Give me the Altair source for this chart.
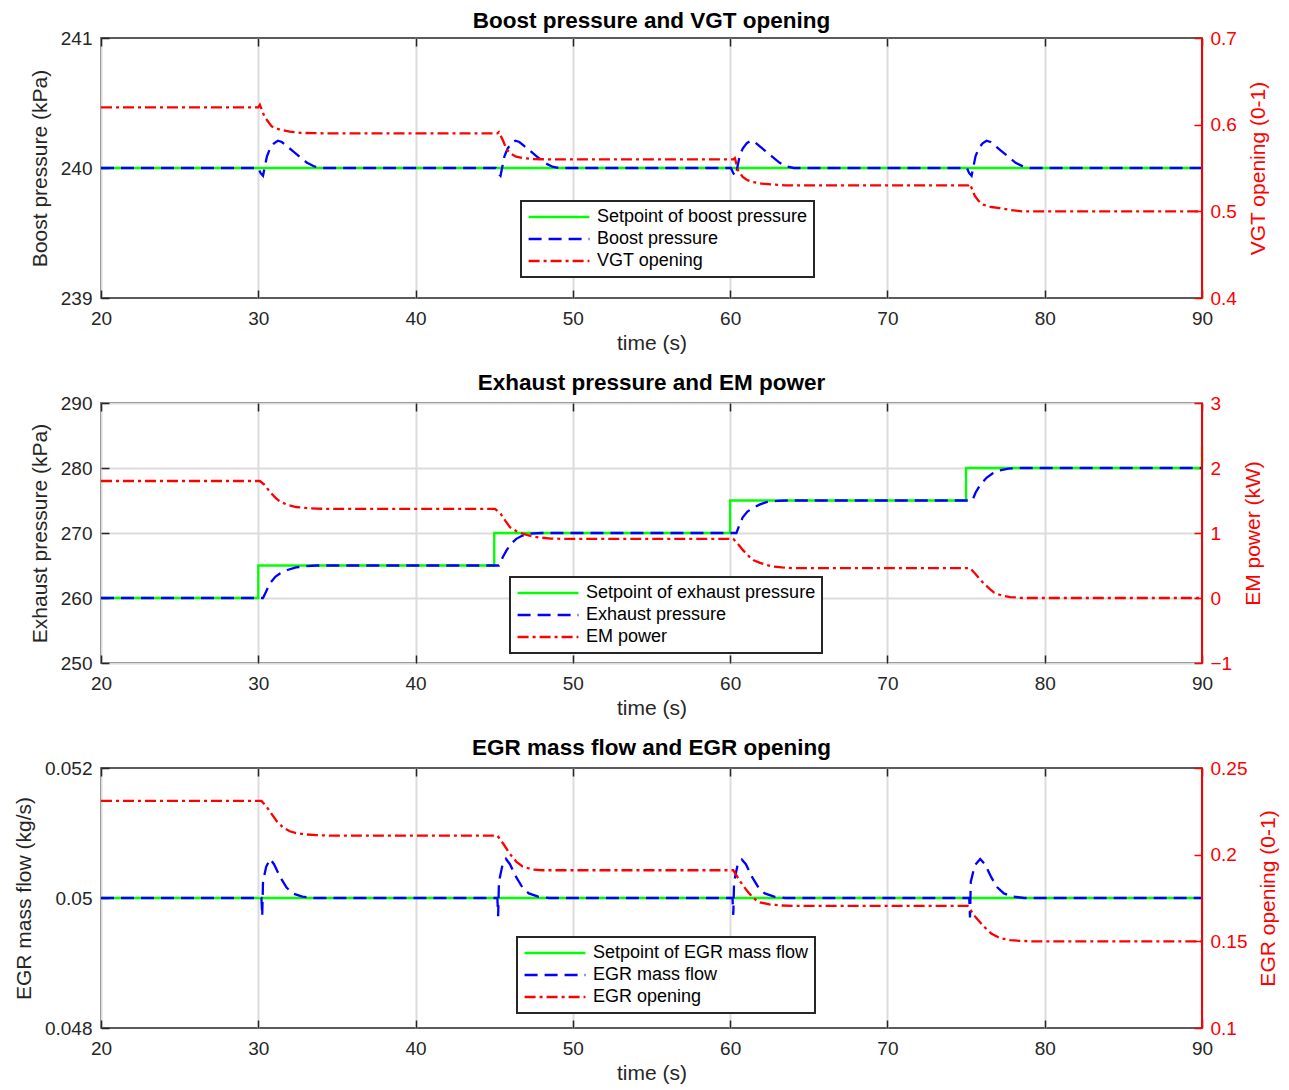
import altair as alt
import pandas as pd

FONT = "Liberation Sans"
GREEN, BLUE, RED, DARK = "#00FF00", "#0000FF", "#FF0000", "#262626"
W, H = 1101, 260

x_ticks = [20, 30, 40, 50, 60, 70, 80, 90]

# ---------------- Panel 1: boost pressure / VGT ----------------
p1_names = ["Setpoint of boost pressure", "Boost pressure", "VGT opening"]
boost_sp_t = [20, 90]
boost_sp_v = [240, 240]
boost_t = [20, 30.0, 30.15, 30.3, 30.4, 30.55, 30.75, 31.0, 31.25, 31.5, 31.8, 32.2, 32.6, 33.1, 33.6, 34.0,
           45.1, 45.25, 45.4, 45.5, 45.65, 45.85, 46.1, 46.35, 46.6, 46.9, 47.3, 47.7, 48.2, 48.7, 49.1,
           60.05, 60.2, 60.35, 60.45, 60.6, 60.8, 61.05, 61.3, 61.55, 61.85, 62.25, 62.65, 63.15, 63.65, 64.05,
           75.05, 75.2, 75.35, 75.45, 75.6, 75.8, 76.05, 76.3, 76.55, 76.85, 77.25, 77.65, 78.15, 78.65, 79.05, 90]
boost_v = [240, 240.0, 239.96, 239.94, 240.0, 240.09, 240.15, 240.19, 240.21, 240.2, 240.17, 240.13, 240.09, 240.04, 240.01, 240.0,
           240.0, 239.96, 239.94, 240.0, 240.09, 240.15, 240.19, 240.21, 240.2, 240.17, 240.13, 240.09, 240.04, 240.01, 240.0,
           240.0, 239.96, 239.94, 240.0, 240.09, 240.15, 240.19, 240.21, 240.2, 240.17, 240.13, 240.09, 240.04, 240.01, 240.0,
           240.0, 239.96, 239.94, 240.0, 240.09, 240.15, 240.19, 240.21, 240.2, 240.17, 240.13, 240.09, 240.04, 240.01, 240.0, 240.0]
vgt_t = [20, 30.0, 30.1, 30.4, 30.85, 31.4, 32.0, 32.7, 33.5, 34.3,
         45.2, 45.3, 45.55, 45.8, 46.1, 46.4, 46.9, 47.5, 48.3,
         60.2, 60.3, 60.5, 60.8, 61.1, 61.45, 62.0, 62.7, 63.5,
         75.15, 75.25, 75.55, 75.8, 76.1, 76.6, 77.15, 77.8, 78.6, 90]
vgt_v = [0.62, 0.62, 0.623, 0.609, 0.598, 0.594, 0.592, 0.5905, 0.5902, 0.59,
         0.59, 0.5915, 0.582, 0.571, 0.566, 0.563, 0.5612, 0.5604, 0.56,
         0.56, 0.5615, 0.5477, 0.5396, 0.536, 0.5338, 0.532, 0.531, 0.53,
         0.53, 0.5315, 0.518, 0.512, 0.5077, 0.505, 0.5038, 0.5015, 0.5, 0.5]

# ---------------- Panel 2: exhaust pressure / EM power ----------------
p2_names = ["Setpoint of exhaust pressure", "Exhaust pressure", "EM power"]
exh_sp_t = [20, 30, 30, 45, 45, 60, 60, 75, 75, 90, 90]
exh_sp_v = [260, 260, 265, 265, 270, 270, 275, 275, 280, 280, 283.5]
exh_t = [20, 30.3, 30.5, 30.75, 31.1, 31.4, 31.9, 32.4, 33.0, 33.7,
         45.3, 45.55, 45.8, 46.1, 46.4, 46.8, 47.3, 48.0,
         60.4, 60.6, 60.8, 61.1, 61.5, 61.9, 62.3, 63.0, 63.6,
         75.4, 75.6, 75.9, 76.3, 76.7, 77.1, 77.7, 78.4, 90]
exh_v = [260, 260, 261.0, 262.3, 263.3, 263.8, 264.35, 264.7, 264.9, 265.0,
         265, 266.3, 267.4, 268.4, 269.1, 269.6, 269.9, 270,
         270, 271.3, 272.4, 273.3, 273.9, 274.4, 274.75, 274.95, 275,
         275, 276.2, 277.4, 278.5, 279.2, 279.6, 279.9, 280, 280]
em_t = [20, 30.1, 30.4, 30.75, 31.1, 31.4, 31.9, 32.4, 33.0, 33.7, 34.5,
        45.05, 45.4, 45.7, 46.0, 46.4, 46.8, 47.3, 47.9, 48.6, 49.3,
        60.2, 60.5, 60.8, 61.2, 61.5, 61.9, 62.3, 62.7, 63.3, 64.0,
        75.25, 75.6, 76.1, 76.5, 76.8, 77.3, 77.8, 78.6, 90]
em_v = [1.8, 1.8, 1.74, 1.63, 1.54, 1.48, 1.43, 1.40, 1.385, 1.375, 1.37,
        1.37, 1.3, 1.19, 1.09, 1.03, 0.99, 0.955, 0.93, 0.915, 0.91,
        0.91, 0.83, 0.74, 0.64, 0.58, 0.54, 0.51, 0.485, 0.47, 0.46,
        0.46, 0.37, 0.23, 0.14, 0.08, 0.035, 0.015, 0.0, 0.0]

# ---------------- Panel 3: EGR mass flow / EGR opening ----------------
p3_names = ["Setpoint of EGR mass flow", "EGR mass flow", "EGR opening"]
egr_sp_t = [20, 90]
egr_sp_v = [0.05, 0.05]
egr_t = [20, 30.2, 30.25, 30.3, 30.5, 30.75, 31.0, 31.4, 31.8, 32.2, 32.8, 33.5,
         45.2, 45.25, 45.3, 45.5, 45.75, 46.0, 46.4, 46.8, 47.2, 47.8, 48.5,
         60.15, 60.2, 60.25, 60.45, 60.75, 61.0, 61.4, 61.8, 62.2, 62.8, 63.5,
         75.2, 75.25, 75.3, 75.55, 75.9, 76.2, 76.6, 77.0, 77.4, 78.0, 78.7, 90]
egr_v = [0.05, 0.05, 0.04972, 0.05025, 0.05048, 0.0506, 0.05052, 0.05032, 0.05016, 0.05007, 0.05002, 0.05,
         0.05, 0.04972, 0.05025, 0.05048, 0.0506, 0.05052, 0.05032, 0.05016, 0.05007, 0.05002, 0.05,
         0.05, 0.04974, 0.05025, 0.05048, 0.05059, 0.05052, 0.05032, 0.05016, 0.05007, 0.05002, 0.05,
         0.05, 0.0497, 0.05025, 0.0505, 0.0506, 0.05052, 0.05032, 0.05016, 0.05007, 0.05002, 0.05, 0.05]
egro_t = [20, 30.2, 30.5, 30.9, 31.2, 31.6, 32.0, 32.4, 33.0, 33.7, 34.5,
          45.2, 45.6, 46.0, 46.4, 46.8, 47.4, 48.1,
          60.2, 60.6, 61.05, 61.5, 61.9, 62.5, 63.2, 64.0,
          75.1, 75.6, 76.1, 76.6, 77.15, 77.8, 78.4, 79.2, 90]
egro_v = [0.231, 0.231, 0.228, 0.2228, 0.219, 0.2155, 0.2135, 0.2125, 0.2117, 0.2113, 0.211,
          0.211, 0.206, 0.2004, 0.196, 0.1932, 0.1915, 0.191,
          0.191, 0.185, 0.1794, 0.1747, 0.1725, 0.1713, 0.1707, 0.1705,
          0.1705, 0.164, 0.1588, 0.1545, 0.1519, 0.1507, 0.1503, 0.15, 0.15]


def frame(t, v, name):
    return pd.DataFrame({"t": t, "v": v, "series": name, "i": range(len(t))})


def panel(title, names, left_parts, right_part, ydom_l, yticks_l, ytitle_l,
          ydom_r, yticks_r, ytitle_r, hgrid, lx, ly, title_offset):
    left_df = pd.concat([frame(*p) for p in left_parts], ignore_index=True)
    right_df = frame(*right_part)
    leg = alt.Legend(orient="none", legendX=lx, legendY=ly, title=None,
                     symbolType="stroke", symbolSize=3700, symbolStrokeWidth=2.5,
                     clipHeight=20, labelFontSize=18, labelFont=FONT, labelColor="black",
                     labelLimit=400, fillColor="white", strokeColor=DARK, padding=6,
                     rowPadding=2, labelOffset=6)
    color = alt.Color("series:N", scale=alt.Scale(domain=names, range=[GREEN, BLUE, RED]), legend=leg)
    dash = alt.StrokeDash("series:N",
                          scale=alt.Scale(domain=names, range=[[1, 0], [13, 7], [11, 4, 3, 4]]),
                          legend=leg)
    xscale = alt.Scale(domain=[20, 90], nice=False, zero=False)
    left = alt.Chart(left_df).mark_line(strokeWidth=2.3).encode(
        x=alt.X("t:Q", scale=xscale,
                axis=alt.Axis(orient="bottom", values=x_ticks, title="time (s)", offset=-8,
                              tickSize=8, domain=False, grid=True, gridColor="#DCDCDC",
                              gridWidth=2, labelPadding=11, titlePadding=4, labelFlush=False)),
        y=alt.Y("v:Q", scale=alt.Scale(domain=ydom_l, nice=False, zero=False),
                axis=alt.Axis(orient="left", values=yticks_l, title=ytitle_l, offset=-8,
                              tickSize=8, domain=False, grid=hgrid, gridColor="#DCDCDC",
                              gridWidth=2, format="~r", labelPadding=9, titlePadding=10,
                              labelFlush=False)),
        color=color, strokeDash=dash, order=alt.Order("i:Q"))
    right = alt.Chart(right_df).mark_line(strokeWidth=2.3).encode(
        x=alt.X("t:Q", scale=xscale,
                axis=alt.Axis(orient="top", values=x_ticks, title=None, labels=False, offset=-8,
                              tickSize=8, domain=False, grid=False)),
        y=alt.Y("v:Q", scale=alt.Scale(domain=ydom_r, nice=False, zero=False),
                axis=alt.Axis(orient="right", values=yticks_r, title=ytitle_r, offset=-8,
                              tickSize=8, domain=False, grid=False, format="~r",
                              labelColor=RED, tickColor=RED, titleColor=RED, titleAngle=270,
                              titleBaseline="top", labelPadding=8, titlePadding=11,
                              labelFlush=False)),
        color=color, strokeDash=dash, order=alt.Order("i:Q"))
    edge = alt.Chart(pd.DataFrame({"k": [0]})).mark_rule(color=RED, strokeWidth=2).encode(
        x=alt.value(W), y=alt.value(0), y2=alt.value(H))
    return alt.layer(left, right, edge).resolve_scale(y="independent").resolve_axis(
        x="independent", y="independent").properties(
        width=W, height=H, title=alt.TitleParams(title, frame="group", offset=title_offset))


p1 = panel("Boost pressure and VGT opening", p1_names,
           [(boost_sp_t, boost_sp_v, p1_names[0]), (boost_t, boost_v, p1_names[1])],
           (vgt_t, vgt_v, p1_names[2]),
           [239, 241], [239, 240, 241], "Boost pressure (kPa)",
           [0.4, 0.7], [0.4, 0.5, 0.6, 0.7], "VGT opening (0-1)", False, 420, 163, -3)
p2 = panel("Exhaust pressure and EM power", p2_names,
           [(exh_sp_t, exh_sp_v, p2_names[0]), (exh_t, exh_v, p2_names[1])],
           (em_t, em_v, p2_names[2]),
           [250, 290], [250, 260, 270, 280, 290], "Exhaust pressure (kPa)",
           [-1, 3], [-1, 0, 1, 2, 3], "EM power (kW)", True, 409, 174, 0)
p3 = panel("EGR mass flow and EGR opening", p3_names,
           [(egr_sp_t, egr_sp_v, p3_names[0]), (egr_t, egr_v, p3_names[1])],
           (egro_t, egro_v, p3_names[2]),
           [0.048, 0.052], [0.048, 0.05, 0.052], "EGR mass flow (kg/s)",
           [0.1, 0.25], [0.1, 0.15, 0.2, 0.25], "EGR opening (0-1)", False, 416, 169, 0)

chart = alt.vconcat(p1, p2, p3, spacing=105, bounds="flush").resolve_scale(
    color="independent", strokeDash="independent", y="independent"
).configure_axis(
    labelFont=FONT, titleFont=FONT, labelFontSize=19, titleFontSize=21,
    titleFontWeight="normal", labelColor=DARK, titleColor=DARK, tickColor=DARK, tickWidth=1.5
).configure_view(stroke=DARK, strokeWidth=1.5).configure_title(
    font=FONT, fontSize=22.5, fontWeight="bold", color="black", anchor="middle"
).configure_legend(strokeWidth=2).properties(
    padding={"left": 4, "top": 0, "right": 0, "bottom": 0}, background="white")

chart.save("out.html", embed_options={"renderer": "svg", "actions": False})
